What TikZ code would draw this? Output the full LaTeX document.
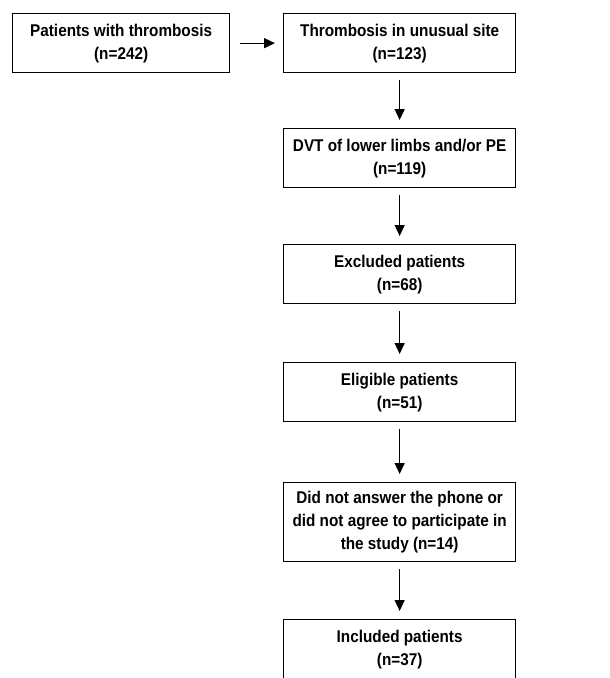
\documentclass[tikz,border=0pt]{standalone}
\usepackage{fontspec}
\setmainfont[FakeStretch=0.9]{Liberation Sans}
\usetikzlibrary{arrows.meta}
\begin{document}
\begin{tikzpicture}[x=1pt,y=-1pt,
  box/.style={draw=black, line width=1.3pt, anchor=north west, inner sep=0pt,
    align=center, font=\fontsize{17}{23}\selectfont\bfseries},
  arr/.style={line width=1.3pt, -{Triangle[length=11pt,width=10pt]}}]
\useasboundingbox (0,0) rectangle (610,678);
\clip (0,0) rectangle (610,678);
\node[box, minimum width=217pt, minimum height=59pt] (b1) at (12,13) {Patients with thrombosis\\(n=242)};
\node[box, minimum width=232pt, minimum height=59pt] (b2) at (283,13) {Thrombosis in unusual site\\(n=123)};
\node[box, minimum width=232pt, minimum height=59pt] (b3) at (283,128) {DVT of lower limbs and/or PE\\(n=119)};
\node[box, minimum width=232pt, minimum height=59pt] (b4) at (283,244) {Excluded patients\\(n=68)};
\node[box, minimum width=232pt, minimum height=59pt] (b5) at (283,362) {Eligible patients\\(n=51)};
\node[box, minimum width=232pt, minimum height=79pt] (b6) at (283,482) {Did not answer the phone or\\did not agree to participate in\\the study (n=14)};
\node[box, minimum width=232pt, minimum height=60pt] (b7) at (283,619) {Included patients\\(n=37)};
\draw[arr, shorten <=10pt, shorten >=8pt] (b1.east) -- (b2.west);
\draw[arr, shorten <=7pt, shorten >=8pt] (b2.south) -- (b3.north);
\draw[arr, shorten <=7pt, shorten >=8pt] (b3.south) -- (b4.north);
\draw[arr, shorten <=7pt, shorten >=8pt] (b4.south) -- (b5.north);
\draw[arr, shorten <=7pt, shorten >=8pt] (b5.south) -- (b6.north);
\draw[arr, shorten <=7pt, shorten >=8pt] (b6.south) -- (b7.north);
\end{tikzpicture}
\end{document}
